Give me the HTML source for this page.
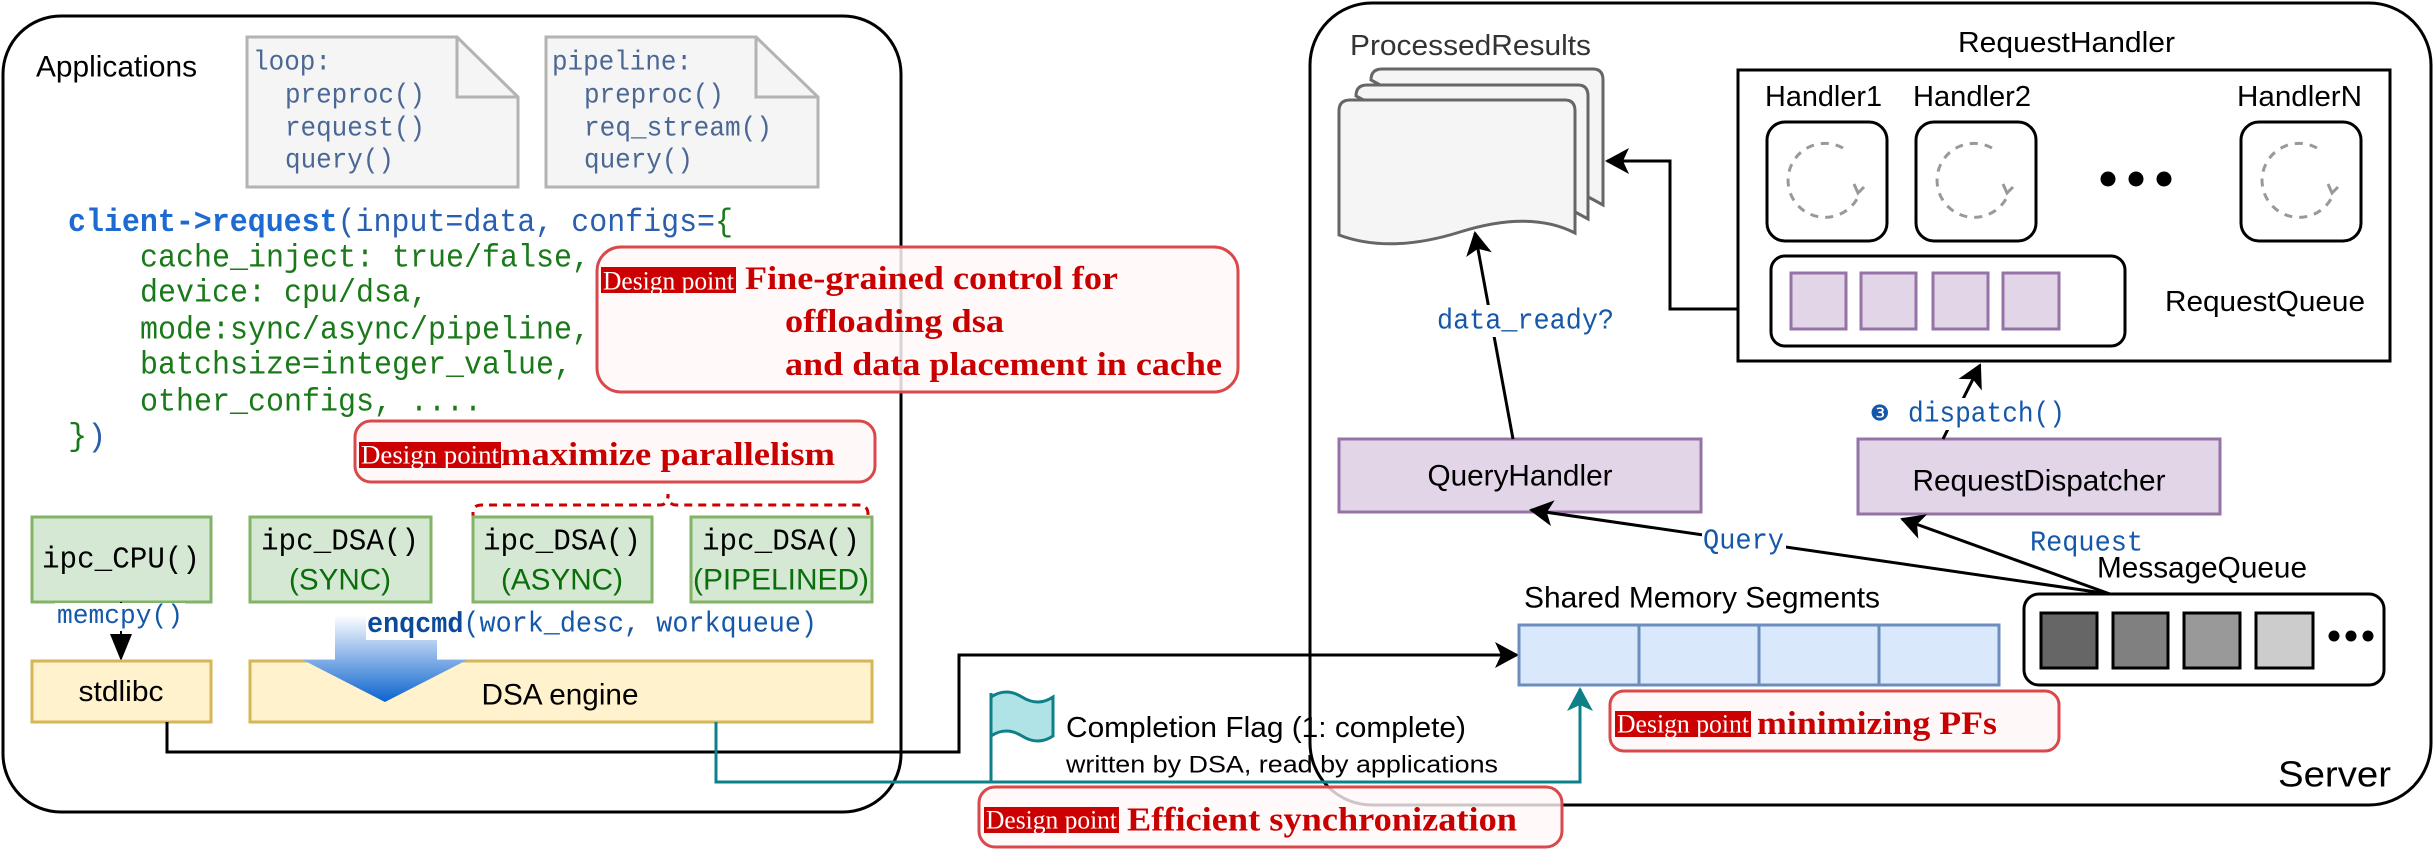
<!DOCTYPE html>
<html><head><meta charset="utf-8"><style>
html,body{margin:0;padding:0;background:#fff;}
svg{display:block;}
.mono{font-family:"Liberation Mono",monospace;}
.sans{font-family:"Liberation Sans",sans-serif;}
.serif{font-family:"Liberation Serif",serif;}
</style></head><body>
<svg width="2433" height="849" viewBox="0 0 2433 849" xmlns="http://www.w3.org/2000/svg">
<defs>
<marker id="abig" markerWidth="26" markerHeight="26" refX="22" refY="13" orient="auto" markerUnits="userSpaceOnUse"><path d="M0,0 L24,13 L0,26 L6,13 Z" fill="#000"/></marker>
<marker id="at" markerWidth="26" markerHeight="26" refX="22" refY="13" orient="auto" markerUnits="userSpaceOnUse"><path d="M0,0 L24,13 L0,26 L6,13 Z" fill="#0e8088"/></marker>
<linearGradient id="bg" x1="0" y1="0" x2="0" y2="1"><stop offset="0" stop-color="#fff"/><stop offset="1" stop-color="#0b63cf"/></linearGradient>
</defs>

<!-- Left application box -->
<rect x="3" y="16" width="898" height="796" rx="58" fill="none" stroke="#000" stroke-width="3"/>
<text x="36" y="67" class="sans" font-size="30" dominant-baseline="central" textLength="161" lengthAdjust="spacingAndGlyphs">Applications</text>

<!-- docs -->
<path d="M247,37 H457 L518,97 V187 H247 Z" fill="#f5f5f5" stroke="#b3b3b3" stroke-width="3"/>
<path d="M457,37 V97 H518" fill="none" stroke="#b3b3b3" stroke-width="3"/>
<g class="mono" font-size="28" fill="#4a6894">
<text x="253" y="63" dominant-baseline="central" textLength="78" lengthAdjust="spacingAndGlyphs">loop:</text>
<text x="285" y="96" dominant-baseline="central" textLength="140" lengthAdjust="spacingAndGlyphs">preproc()</text>
<text x="285" y="129" dominant-baseline="central" textLength="140" lengthAdjust="spacingAndGlyphs">request()</text>
<text x="285" y="161" dominant-baseline="central" textLength="109" lengthAdjust="spacingAndGlyphs">query()</text>
</g>
<path d="M546,37 H756 L818,97 V187 H546 Z" fill="#f5f5f5" stroke="#b3b3b3" stroke-width="3"/>
<path d="M756,37 V97 H818" fill="none" stroke="#b3b3b3" stroke-width="3"/>
<g class="mono" font-size="28" fill="#4a6894">
<text x="552" y="63" dominant-baseline="central" textLength="140" lengthAdjust="spacingAndGlyphs">pipeline:</text>
<text x="584" y="96" dominant-baseline="central" textLength="140" lengthAdjust="spacingAndGlyphs">preproc()</text>
<text x="584" y="129" dominant-baseline="central" textLength="188" lengthAdjust="spacingAndGlyphs">req_stream()</text>
<text x="584" y="161" dominant-baseline="central" textLength="109" lengthAdjust="spacingAndGlyphs">query()</text>
</g>

<!-- code -->
<g class="mono" font-size="32">
<text x="68" y="222" dominant-baseline="central" textLength="665" lengthAdjust="spacingAndGlyphs"><tspan fill="#1d6ad0" font-weight="bold">client-&gt;request</tspan><tspan fill="#2a5fb0">(input=data, configs=</tspan><tspan fill="#1a7a1a">{</tspan></text>
<g fill="#1a7a1a">
<text x="140" y="258" dominant-baseline="central" textLength="450" lengthAdjust="spacingAndGlyphs">cache_inject: true/false,</text>
<text x="140" y="293" dominant-baseline="central" textLength="288" lengthAdjust="spacingAndGlyphs">device: cpu/dsa,</text>
<text x="140" y="330" dominant-baseline="central" textLength="450" lengthAdjust="spacingAndGlyphs">mode:sync/async/pipeline,</text>
<text x="140" y="365" dominant-baseline="central" textLength="432" lengthAdjust="spacingAndGlyphs">batchsize=integer_value,</text>
<text x="140" y="402" dominant-baseline="central" textLength="342" lengthAdjust="spacingAndGlyphs">other_configs, ....</text>
<text x="68" y="437" dominant-baseline="central">}<tspan fill="#2a5fb0">)</tspan></text>
</g>
</g>

<!-- Fine grained design point -->
<rect x="597" y="247" width="641" height="145" rx="24" fill="#fff8f8" fill-opacity="0.85" stroke="#d9484a" stroke-width="3"/>
<rect x="601" y="267" width="135" height="26" fill="#cc0000"/>
<text x="603" y="281" class="serif" font-size="26" fill="#fff" dominant-baseline="central" textLength="131" lengthAdjust="spacingAndGlyphs">Design point</text>
<g class="serif" font-weight="bold" font-size="33" fill="#c80000">
<text x="745" y="279" dominant-baseline="central" textLength="373" lengthAdjust="spacingAndGlyphs">Fine-grained control for</text>
<text x="785" y="322" dominant-baseline="central" textLength="219" lengthAdjust="spacingAndGlyphs">offloading dsa</text>
<text x="785" y="365" dominant-baseline="central" textLength="437" lengthAdjust="spacingAndGlyphs">and data placement in cache</text>
</g>

<!-- maximize parallelism -->
<rect x="355" y="421" width="520" height="61" rx="16" fill="#fff8f8" stroke="#d9484a" stroke-width="3"/>
<rect x="359" y="442" width="142" height="26" fill="#cc0000"/>
<text x="361" y="455" class="serif" font-size="26" fill="#fff" dominant-baseline="central" textLength="138" lengthAdjust="spacingAndGlyphs">Design point</text>
<text x="501" y="455" class="serif" font-weight="bold" font-size="33" fill="#c80000" dominant-baseline="central" textLength="334" lengthAdjust="spacingAndGlyphs">maximize parallelism</text>

<!-- dashed brace -->
<path d="M473,520 V512 Q473,505 482,505 H660 Q668,505 668,494 Q668,505 676,505 H858 Q868,505 868,514 V520" fill="none" stroke="#cc0000" stroke-width="3" stroke-dasharray="8,6"/>

<!-- green boxes -->
<g stroke="#82b366" stroke-width="3" fill="#d5e8d4">
<rect x="32" y="517" width="179" height="85"/>
<rect x="250" y="517" width="181" height="85"/>
<rect x="473" y="517" width="179" height="85"/>
<rect x="691" y="517" width="181" height="85"/>
</g>
<g class="mono" font-size="31" text-anchor="middle">
<text x="121" y="560" dominant-baseline="central" textLength="158" lengthAdjust="spacingAndGlyphs">ipc_CPU()</text>
<text x="340" y="542" dominant-baseline="central" textLength="158" lengthAdjust="spacingAndGlyphs">ipc_DSA()</text>
<text x="562" y="542" dominant-baseline="central" textLength="158" lengthAdjust="spacingAndGlyphs">ipc_DSA()</text>
<text x="781" y="542" dominant-baseline="central" textLength="158" lengthAdjust="spacingAndGlyphs">ipc_DSA()</text>
</g>
<g class="sans" font-size="30" text-anchor="middle" fill="#0a6e0a">
<text x="340" y="580" dominant-baseline="central" textLength="102" lengthAdjust="spacingAndGlyphs">(SYNC)</text>
<text x="562" y="580" dominant-baseline="central" textLength="122" lengthAdjust="spacingAndGlyphs">(ASYNC)</text>
<text x="781" y="580" dominant-baseline="central" textLength="176" lengthAdjust="spacingAndGlyphs">(PIPELINED)</text>
</g>

<!-- memcpy arrow -->
<line x1="121" y1="602" x2="121" y2="659" stroke="#000" stroke-width="2"/>
<path d="M110,634 L121,661 L132,634 Z" fill="#000"/>
<rect x="55" y="603" width="130" height="28" fill="#fff"/>
<text x="120" y="617" class="mono" font-size="27" fill="#1557a8" text-anchor="middle" dominant-baseline="central" textLength="126" lengthAdjust="spacingAndGlyphs">memcpy()</text>

<!-- yellow boxes -->
<rect x="32" y="661" width="179" height="61" fill="#fff2cc" stroke="#d6b656" stroke-width="3"/>
<rect x="250" y="661" width="622" height="61" fill="#fff2cc" stroke="#d6b656" stroke-width="3"/>
<text x="121" y="692" class="sans" font-size="29" text-anchor="middle" dominant-baseline="central" textLength="85" lengthAdjust="spacingAndGlyphs">stdlibc</text>
<text x="560" y="695" class="sans" font-size="30" text-anchor="middle" dominant-baseline="central" textLength="157" lengthAdjust="spacingAndGlyphs">DSA engine</text>

<!-- big blue arrow -->
<path d="M335,615 H437 V660 H467 L385,702 L303,660 H335 Z" fill="url(#bg)"/>
<rect x="366" y="608" width="452" height="32" fill="#fff"/>
<text x="367" y="624" class="mono" font-size="29" fill="#1557a8" dominant-baseline="central" textLength="450" lengthAdjust="spacingAndGlyphs"><tspan font-weight="bold" fill="#0b4a9a">enqcmd</tspan>(work_desc, workqueue)</text>

<!-- Server box -->
<rect x="1310" y="3" width="1121" height="802" rx="62" fill="none" stroke="#000" stroke-width="3"/>
<text x="2278" y="774" class="sans" font-size="36" dominant-baseline="central" textLength="113" lengthAdjust="spacingAndGlyphs">Server</text>

<!-- black line stdlibc -> shared mem -->
<path d="M167,722 V752 H959 V655 H1517" fill="none" stroke="#000" stroke-width="3" marker-end="url(#abig)"/>
<!-- teal line -->
<path d="M716,722 V782 H1580 V689" fill="none" stroke="#0e8088" stroke-width="3" marker-end="url(#at)"/>

<!-- flag -->
<line x1="991" y1="693" x2="991" y2="782" stroke="#0e8088" stroke-width="3"/>
<path d="M991,697 Q1006,687 1022,697 Q1038,707 1053,697 V736 Q1038,746 1022,736 Q1006,726 991,736 Z" fill="#b0e3e6" stroke="#0e8088" stroke-width="3"/>
<text x="1066" y="728" font-family="Liberation Sans, sans-serif" font-size="29" dominant-baseline="central" textLength="400" lengthAdjust="spacingAndGlyphs">Completion Flag (1: complete)</text>
<text x="1066" y="765" font-family="Liberation Sans, sans-serif" font-size="24" dominant-baseline="central" textLength="432" lengthAdjust="spacingAndGlyphs">written by DSA, read by applications</text>

<!-- Efficient sync -->
<rect x="979" y="787" width="583" height="60" rx="16" fill="#fff8f8" fill-opacity="0.8" stroke="#d9484a" stroke-width="3"/>
<rect x="984" y="807" width="135" height="26" fill="#cc0000"/>
<text x="986" y="820" class="serif" font-size="26" fill="#fff" dominant-baseline="central" textLength="131" lengthAdjust="spacingAndGlyphs">Design point</text>
<text x="1127" y="820" class="serif" font-weight="bold" font-size="34" fill="#c80000" dominant-baseline="central" textLength="390" lengthAdjust="spacingAndGlyphs">Efficient synchronization</text>

<!-- ProcessedResults -->
<text x="1350" y="46" class="sans" font-size="29" fill="#333" dominant-baseline="central" textLength="241" lengthAdjust="spacingAndGlyphs">ProcessedResults</text>
<g fill="#f5f5f5" stroke="#666" stroke-width="3">
<path d="M1371,80 Q1371,69 1382,69 H1593 Q1603,69 1603,80 V205 L1592,199 Z"/>
<path d="M1356,96 Q1356,85 1367,85 H1578 Q1588,85 1588,96 V219 L1577,213 Z"/>
<path d="M1339,111 Q1339,100 1350,100 H1565 Q1575,100 1575,111 V233 Q1530,210 1460,232 Q1390,254 1339,235 Z"/>
</g>

<!-- RequestHandler -->
<text x="1958" y="43" class="sans" font-size="29" dominant-baseline="central" textLength="217" lengthAdjust="spacingAndGlyphs">RequestHandler</text>
<rect x="1738" y="70" width="652" height="291" fill="#fff" stroke="#000" stroke-width="3"/>
<g class="sans" font-size="29">
<text x="1765" y="97" dominant-baseline="central" textLength="117" lengthAdjust="spacingAndGlyphs">Handler1</text>
<text x="1913" y="97" dominant-baseline="central" textLength="118" lengthAdjust="spacingAndGlyphs">Handler2</text>
<text x="2237" y="97" dominant-baseline="central" textLength="125" lengthAdjust="spacingAndGlyphs">HandlerN</text>
<text x="2165" y="302" dominant-baseline="central" textLength="200" lengthAdjust="spacingAndGlyphs">RequestQueue</text>
</g>
<g fill="none" stroke="#000" stroke-width="3">
<rect x="1767" y="122" width="120" height="119" rx="18"/>
<rect x="1916" y="122" width="120" height="119" rx="18"/>
<rect x="2241" y="122" width="120" height="119" rx="18"/>
</g>
<g fill="none" stroke="#999" stroke-width="3" stroke-dasharray="8,7">
<path d="M1843,148 A37,37 0 1 0 1859,195"/>
<path d="M1992,148 A37,37 0 1 0 2008,195"/>
<path d="M2317,148 A37,37 0 1 0 2333,195"/>
</g>
<g fill="none" stroke="#999" stroke-width="3">
<path d="M1854,184 L1858,193 L1864,187"/>
<path d="M2003,184 L2007,193 L2013,187"/>
<path d="M2328,184 L2332,193 L2338,187"/>
</g>
<g fill="#000"><circle cx="2108" cy="179" r="7.5"/><circle cx="2136" cy="179" r="7.5"/><circle cx="2164" cy="179" r="7.5"/></g>
<rect x="1771" y="256" width="354" height="90" rx="14" fill="none" stroke="#000" stroke-width="3"/>
<g fill="#e1d5e7" stroke="#9673a6" stroke-width="3">
<rect x="1791" y="273" width="55" height="56"/><rect x="1861" y="273" width="55" height="56"/>
<rect x="1933" y="273" width="55" height="56"/><rect x="2003" y="273" width="56" height="56"/>
</g>
<path d="M1738,309 H1670 V161 H1607" fill="none" stroke="#000" stroke-width="3" marker-end="url(#abig)"/>

<!-- QueryHandler / RequestDispatcher -->
<rect x="1339" y="439" width="362" height="73" fill="#e1d5e7" stroke="#9673a6" stroke-width="3"/>
<text x="1520" y="476" class="sans" font-size="30" text-anchor="middle" dominant-baseline="central" textLength="185" lengthAdjust="spacingAndGlyphs">QueryHandler</text>
<rect x="1858" y="439" width="362" height="75" fill="#e1d5e7" stroke="#9673a6" stroke-width="3"/>
<text x="2039" y="481" class="sans" font-size="30" text-anchor="middle" dominant-baseline="central" textLength="253" lengthAdjust="spacingAndGlyphs">RequestDispatcher</text>

<line x1="1513" y1="439" x2="1475" y2="233" stroke="#000" stroke-width="3" marker-end="url(#abig)"/>
<rect x="1435" y="305" width="182" height="32" fill="#fff"/>
<text x="1437" y="321" class="mono" font-size="29" fill="#1557a8" dominant-baseline="central" textLength="177" lengthAdjust="spacingAndGlyphs">data_ready?</text>

<line x1="1943" y1="439" x2="1980" y2="365" stroke="#000" stroke-width="3" marker-end="url(#abig)"/>
<rect x="1866" y="398" width="172" height="32" fill="#fff"/>
<text x="1870" y="414" font-family="DejaVu Sans, sans-serif" font-size="22" fill="#1557a8" dominant-baseline="central">❸</text>
<text x="1908" y="414" class="mono" font-size="29" fill="#1557a8" dominant-baseline="central" textLength="157" lengthAdjust="spacingAndGlyphs">dispatch()</text>

<!-- MessageQueue -->
<text x="2097" y="568" class="sans" font-size="30" dominant-baseline="central" textLength="210" lengthAdjust="spacingAndGlyphs">MessageQueue</text>
<line x1="2110" y1="594" x2="1531" y2="510" stroke="#000" stroke-width="3" marker-end="url(#abig)"/>
<line x1="2110" y1="594" x2="1902" y2="519" stroke="#000" stroke-width="3" marker-end="url(#abig)"/>
<rect x="1702" y="528" width="84" height="28" fill="#fff"/>
<text x="1703" y="541" class="mono" font-size="29" fill="#1557a8" dominant-baseline="central" textLength="81" lengthAdjust="spacingAndGlyphs">Query</text>
<text x="2030" y="543" class="mono" font-size="29" fill="#1557a8" dominant-baseline="central" textLength="113" lengthAdjust="spacingAndGlyphs">Request</text>
<rect x="2024" y="594" width="360" height="91" rx="15" fill="#fff" stroke="#000" stroke-width="3"/>
<g stroke="#000" stroke-width="3">
<rect x="2041" y="613" width="56" height="55" fill="#666"/>
<rect x="2113" y="613" width="55" height="55" fill="#808080"/>
<rect x="2184" y="613" width="56" height="55" fill="#999"/>
<rect x="2256" y="613" width="57" height="55" fill="#ccc"/>
</g>
<g fill="#000"><circle cx="2334" cy="636" r="5.5"/><circle cx="2351" cy="636" r="5.5"/><circle cx="2368" cy="636" r="5.5"/></g>

<!-- Shared memory -->
<text x="1524" y="598" class="sans" font-size="30" dominant-baseline="central" textLength="356" lengthAdjust="spacingAndGlyphs">Shared Memory Segments</text>
<rect x="1519" y="625" width="480" height="60" fill="#dae8fc" stroke="#6c8ebf" stroke-width="3"/>
<g stroke="#6c8ebf" stroke-width="3"><line x1="1639" y1="625" x2="1639" y2="685"/><line x1="1759" y1="625" x2="1759" y2="685"/><line x1="1879" y1="625" x2="1879" y2="685"/></g>

<!-- minimizing PFs -->
<rect x="1610" y="691" width="449" height="60" rx="14" fill="#fff8f8" stroke="#d9484a" stroke-width="3"/>
<rect x="1615" y="711" width="136" height="26" fill="#cc0000"/>
<text x="1617" y="724" class="serif" font-size="26" fill="#fff" dominant-baseline="central" textLength="132" lengthAdjust="spacingAndGlyphs">Design point</text>
<text x="1757" y="724" class="serif" font-weight="bold" font-size="33" fill="#c80000" dominant-baseline="central" textLength="240" lengthAdjust="spacingAndGlyphs">minimizing PFs</text>
</svg>
</body></html>
